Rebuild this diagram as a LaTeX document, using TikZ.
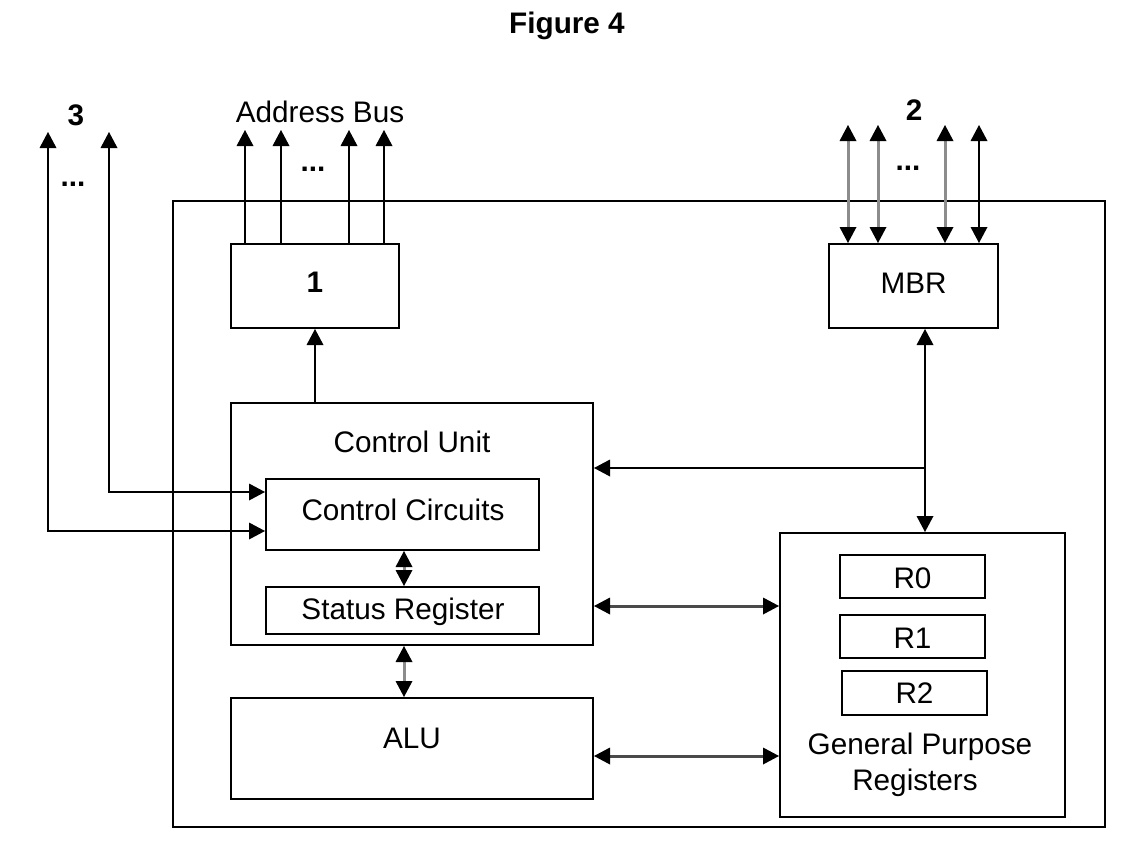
\documentclass[tikz,border=0pt]{standalone}
\usepackage{fontspec}
\setmainfont{Liberation Sans}
\usetikzlibrary{arrows.meta,calc}
\definecolor{lgray}{HTML}{8C8C8C}
\definecolor{dgray}{HTML}{4A4A4A}
\begin{document}
\begin{tikzpicture}[x=1pt,y=-1pt,
  box/.style={draw,line width=2pt,inner sep=0pt},
  txt/.style={font=\fontsize{29.7}{34}\selectfont,inner sep=0pt,anchor=base},
  btxt/.style={txt,font=\fontsize{29.7}{34}\selectfont\bfseries},
  tip/.tip={Triangle[width=17pt,length=16pt,color=black,line width=0pt]},
  arr/.style={line width=2pt,-tip},
  darr/.style={line width=2pt,tip-tip},
  garr/.style={line width=3pt,tip-tip}]
\fill[white] (0,0) rectangle (1134,854);
\useasboundingbox (0,0) rectangle (1134,854);
% boxes
\node[box,minimum width=932pt,minimum height=626pt] (outer) at (639,514) {};
\node[box,minimum width=168pt,minimum height=84pt] (b1) at (315,286) {};
\node[box,minimum width=169pt,minimum height=84pt] (mbr) at (913.5,286) {};
\node[box,minimum width=362pt,minimum height=242pt] (cu) at (412,524) {};
\node[box,minimum width=273pt,minimum height=71pt] (cc) at (402.5,514.5) {};
\node[box,minimum width=273pt,minimum height=47pt] (sr) at (402.5,610.5) {};
\node[box,minimum width=362pt,minimum height=101pt] (alu) at (412,748.5) {};
\node[box,minimum width=285pt,minimum height=284pt] (gpr) at (922.5,675) {};
\node[box,minimum width=145pt,minimum height=43pt] (r0) at (912.5,576.5) {};
\node[box,minimum width=145pt,minimum height=43pt] (r1) at (912.5,636.5) {};
\node[box,minimum width=145pt,minimum height=44pt] (r2) at (914.5,693) {};
% texts
\node[btxt] (title) at (567,33) {Figure 4};
\node[txt] (abus) at (320,122) {Address Bus};
\node[btxt] (l3) at (76,125) {3};
\node[btxt] (l2) at (914,120) {2};
\node[btxt] (l1) at (315,292) {1};
\node[txt] (mbrt) at (913.5,293) {MBR};
\node[txt] (cut) at (412,452) {Control Unit};
\node[txt] (cct) at (403,520) {Control Circuits};
\node[txt] (srt) at (403,619) {Status Register};
\node[txt] (alut) at (412,748) {ALU};
\node[txt] (r0t) at (912.5,588) {R0};
\node[txt] (r1t) at (912.5,648) {R1};
\node[txt] (r2t) at (914.5,703) {R2};
\node[txt] (gp1) at (920,754) {General Purpose};
\node[txt] (gp2) at (915,790) {Registers};
\node[btxt] (dots1) at (73,186) {...};
\node[btxt] (dots2) at (313,171) {...};
\node[btxt] (dots3) at (908,170) {...};
% address bus
\coordinate (a1) at (245,130);
\coordinate (a2) at (281,130);
\coordinate (a3) at (349,130);
\coordinate (a4) at (384,130);
\foreach \c in {a1,a2,a3,a4} \draw[arr] (\c |- b1.north) -- (\c);
% data bus
\coordinate (d1) at (848,125);
\coordinate (d2) at (878,125);
\coordinate (d3) at (945,125);
\coordinate (d4) at (979,125);
\foreach \c in {d1,d2,d3} \draw[garr,lgray] (\c |- mbr.north) -- (\c);
\draw[darr] (d4 |- mbr.north) -- (d4);
% control lines
\coordinate (c1) at (48,132);
\coordinate (c2) at (109,132);
\draw[darr] (c1) |- ($(cc.west)+(0,16.5)$);
\draw[darr] (c2) |- ($(cc.west)+(0,-22.5)$);
% internal
\draw[arr] (b1.south |- cu.north) -- (b1.south);
\draw[garr,lgray] ($(cc.south)+(1.5,0)$) -- ($(sr.north)+(1.5,0)$);
\draw[garr,lgray] ($(cu.south)+(-8,0)$) -- ($(alu.north)+(-8,0)$);
\coordinate (bx) at (925,468);
\draw[darr] (mbr.south -| bx) -- (gpr.north -| bx);
\draw[arr] (bx) -- (cu.east |- bx);
\coordinate (h1) at (0,606);
\coordinate (h2) at (0,756);
\draw[garr,dgray] (cu.east |- h1) -- (gpr.west |- h1);
\draw[garr,dgray] (alu.east |- h2) -- (gpr.west |- h2);
\end{tikzpicture}
\end{document}
